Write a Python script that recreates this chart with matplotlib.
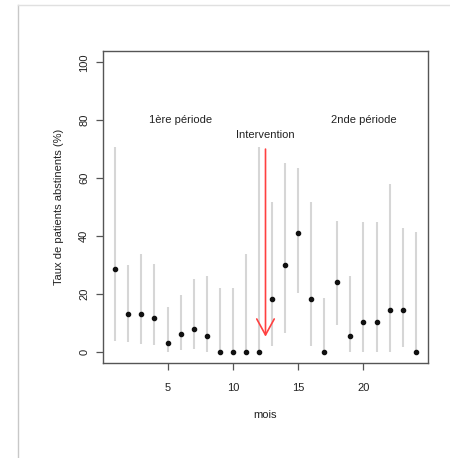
import matplotlib
matplotlib.use("Agg")
import matplotlib.pyplot as plt
from matplotlib.lines import Line2D
from matplotlib.patches import FancyArrowPatch

plt.rcParams['font.family'] = ['Liberation Sans', 'DejaVu Sans']

months = list(range(1, 25))
rate = [28.6, 13.0, 13.0, 11.5, 2.9, 6.0, 7.8, 5.4, 0, 0, 0, 0,
        18.2, 30.0, 40.9, 18.2, 0, 24.0, 5.4, 10.2, 10.2, 14.4, 14.4, 0]
ci_low = [3.7, 3.2, 2.7, 2.3, 0, 0.6, 0.9, 0, 0, 0, 0, 0,
          2.1, 6.6, 20.4, 2.1, 0, 9.2, 0, 0, 0, 0, 1.7, 0]
ci_high = [70.8, 29.8, 33.6, 30.2, 15.3, 19.7, 25.1, 26.0, 21.9, 21.9, 33.6, 70.8,
           51.8, 65.1, 63.6, 51.8, 18.7, 45.3, 26.0, 44.7, 44.7, 57.9, 42.7, 41.2]
xticks = [5, 10, 15, 20]
yticks = [0, 20, 40, 60, 80, 100]
annotations = [("1ère période", 6.0, 80.1), ("Intervention", 12.5, 74.9), ("2nde période", 20.0, 80.1)]
arrow_x, arrow_top, arrow_tip = 12.5, 70.0, 5.2

W, H = 450, 458
fig = plt.figure(figsize=(W / 100, H / 100), dpi=100)
fig.patch.set_facecolor('white')

# outer frame lines
fig.add_artist(Line2D([18 / W, 18 / W], [0, 1 - 4.5 / H], transform=fig.transFigure,
                      color='#c8c8c8', lw=1))
fig.add_artist(Line2D([18 / W, 1], [1 - 4.5 / H, 1 - 4.5 / H], transform=fig.transFigure,
                      color='#e0e0e0', lw=1))

left, right, top, bottom = 103.3, 427.7, 50.7, 363.3
ax = fig.add_axes([left / W, 1 - bottom / H, (right - left) / W, (bottom - top) / H])

txt = '#222222'
for m, lo, hi in zip(months, ci_low, ci_high):
    ax.plot([m, m], [lo, hi], color='#d6d6d6', lw=1.5, solid_capstyle='butt', zorder=1)
ax.plot(months, rate, 'o', color='#111111', markersize=3.0, zorder=3)

for label, x, y in annotations:
    ax.text(x, y, label, ha='center', va='center', fontsize=8, color=txt)

arr = FancyArrowPatch((arrow_x, arrow_top), (arrow_x, arrow_tip),
                      arrowstyle='->,head_length=11.5,head_width=6.3', mutation_scale=1,
                      color='#ff4040', lw=1.2, shrinkA=0, shrinkB=0, zorder=4)
ax.add_patch(arr)

ax.set_xlim(0.08, 24.92)
ax.set_ylim(-4, 104)
ax.set_xticks(xticks)
ax.set_yticks(yticks)
ax.set_yticklabels([str(v) for v in yticks], rotation=90, va='center')
for s in ax.spines.values():
    s.set_color('#555555')
    s.set_linewidth(1.0)
ax.tick_params(axis='both', direction='out', length=5, width=0.9, color='#555555',
               labelsize=8, labelcolor=txt)
ax.tick_params(axis='x', pad=9.5)
ax.tick_params(axis='y', pad=5.2)
ax.set_xlabel('mois', fontsize=8, color=txt, labelpad=12)
ax.set_ylabel('Taux de patients abstinents (%)', fontsize=8, color=txt, labelpad=11)

fig.savefig('out.png', dpi=100)
